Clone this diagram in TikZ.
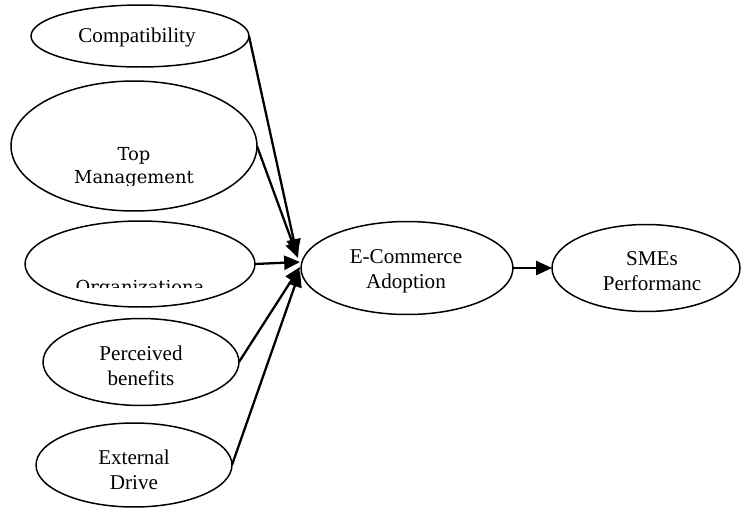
\documentclass[tikz,border=0pt]{standalone}
\usepackage{fontspec}
\setmainfont{Liberation Serif}
\newfontfamily\cambria{DejaVu Serif}
\usepackage{tikz}
\usetikzlibrary{arrows.meta,shapes.geometric,calc}

\tikzset{
  factor/.style={draw, ellipse, line width=0.85pt, inner sep=0pt, outer sep=0pt},
  txt/.style={align=center, inner sep=0pt, anchor=base, font=\fontsize{12}{14}\selectfont},
  ctxt/.style={align=center, inner sep=0pt, anchor=base, font=\cambria\fontsize{10.2}{13}\selectfont},
  link/.style={-{Triangle[length=9pt,width=8pt]}, line width=1.3pt}
}

\begin{document}
\begin{tikzpicture}[x=0.02cm, y=-0.02cm]

\useasboundingbox (0,0) rectangle (741,508);

% Factors (left column)
\node[factor, minimum width=4.36cm, minimum height=1.24cm] (comp) at (140,36) {};
\node[factor, minimum width=4.92cm, minimum height=2.6cm] (topm) at (134,146) {};
\node[factor, minimum width=4.6cm, minimum height=1.72cm] (org) at (140,264) {};
\node[factor, minimum width=3.92cm, minimum height=1.74cm] (perc) at (141,362) {};
\node[factor, minimum width=3.92cm, minimum height=1.68cm] (ext) at (134,465) {};

% Adoption and performance
\node[factor, minimum width=4.24cm, minimum height=1.86cm] (eca) at (407,268) {};
\node[factor, minimum width=3.76cm, minimum height=1.74cm] (sme) at (646,268) {};

% Texts (placed at the baseline of the last line)
\node[txt] (compT) at (137,42) {Compatibility};
\begin{scope}
  \clip (0,100) rectangle (300,185);
  \node[ctxt] (topmT) at (134,183) {Top\\Management};
\end{scope}
\begin{scope}
  \clip (0,250) rectangle (300,287);
  \node[ctxt] (orgT) at (140,293) {Organizationa};
\end{scope}
\node[txt] (percT) at (141,385) {Perceived\\benefits};
\node[txt] (extT) at (134,489) {External\\Drive};
\node[txt] (ecaT) at (406,288) {E-Commerce\\Adoption};
\node[txt] (smeT) at (652,290) {SMEs\\Performanc};

% Arrow ends at the adoption node
\coordinate (h1) at (297,255);
\coordinate (h2) at (298,258);
\coordinate (h3) at (300,262);
\coordinate (h4) at (300,267);
\coordinate (h5) at (300,271);

% Links
\draw[link] (comp.east) -- (h1);
\draw[link] (topm.east) -- (h2);
\draw[link] (org.east) -- (h3);
\draw[link] (perc.east) -- (h4);
\draw[link] (ext.east) -- (h5);
\draw[link] (eca.east) -- (sme.west);

\end{tikzpicture}
\end{document}
